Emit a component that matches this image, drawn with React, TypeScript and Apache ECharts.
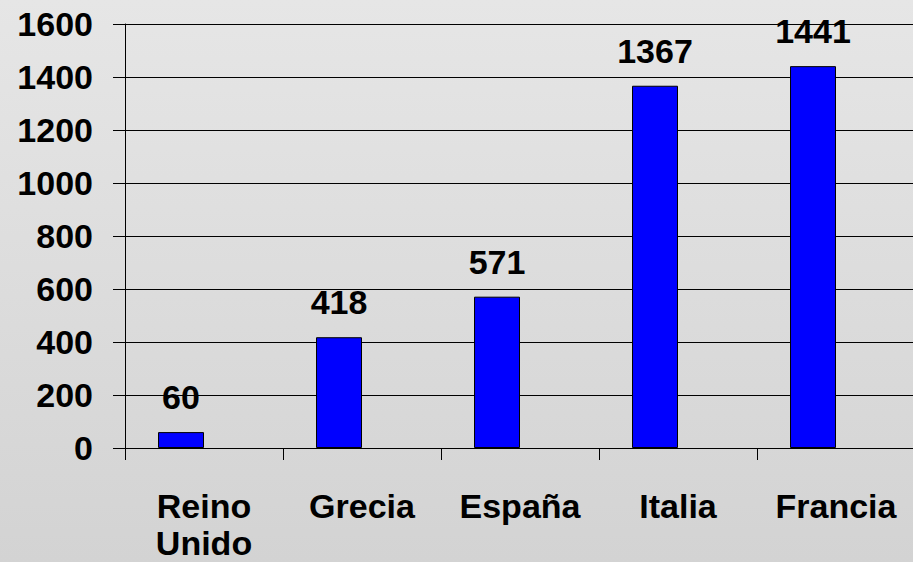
import React, { useEffect, useRef } from "react";
import * as echarts from "echarts";

const categories = ["Reino Unido", "Grecia", "España", "Italia", "Francia"];
const values = [60, 418, 571, 1367, 1441];
const emptySecondSeries = [null, null, null, null, null];
const yTicks = { min: 0, max: 1600, interval: 200 };

const FONT = 'Arial, "Liberation Sans", sans-serif';

export default function App() {
  const ref = useRef<HTMLDivElement>(null);
  useEffect(() => {
    if (!ref.current) return;
    const chart = echarts.init(ref.current, null, { renderer: "svg" });
    chart.setOption({
      animation: false,
      backgroundColor: {
        type: "linear",
        x: 0,
        y: 0,
        x2: 0,
        y2: 1,
        colorStops: [
          { offset: 0, color: "#e6e6e6" },
          { offset: 1, color: "#d3d3d3" },
        ],
      },
      grid: {
        left: 125,
        top: 24,
        width: 790,
        height: 424,
        containLabel: false,
        outerBoundsMode: "none",
      },
      xAxis: {
        type: "category",
        data: categories,
        boundaryGap: true,
        axisLine: { lineStyle: { color: "#000", width: 1 } },
        axisTick: { show: true, length: 12, lineStyle: { color: "#000" } },
        axisLabel: {
          interval: 0,
          margin: 39,
          fontFamily: FONT,
          fontSize: 34,
          fontWeight: "bold",
          color: "#000",
          lineHeight: 37,
          align: "center",
          formatter: (v: string) => v.replace(" ", "\n"),
        },
      },
      yAxis: {
        type: "value",
        min: yTicks.min,
        max: yTicks.max,
        interval: yTicks.interval,
        axisLine: { show: true, lineStyle: { color: "#000", width: 1 } },
        axisTick: { show: true, length: 12, lineStyle: { color: "#000" } },
        splitLine: { show: true, lineStyle: { color: "#000", width: 1 } },
        axisLabel: {
          margin: 32,
          fontFamily: FONT,
          fontSize: 34,
          fontWeight: "bold",
          color: "#000",
          formatter: (v: number) => String(v),
        },
      },
      series: [
        {
          type: "bar",
          data: values,
          barGap: "0%",
          barCategoryGap: "41.8%",
          itemStyle: { color: "#0000ff", borderColor: "#000", borderWidth: 1 },
          label: {
            show: true,
            position: "top",
            distance: 18,
            fontFamily: FONT,
            fontSize: 34,
            fontWeight: "bold",
            color: "#000",
          },
        },
        {
          type: "bar",
          data: emptySecondSeries,
          barGap: "0%",
          barCategoryGap: "41.8%",
          itemStyle: { color: "transparent" },
        },
      ],
    });
    return () => chart.dispose();
  }, []);
  return (
    <div
      ref={ref}
      style={{ position: "fixed", left: 0, top: 0, width: 913, height: 562 }}
    />
  );
}
